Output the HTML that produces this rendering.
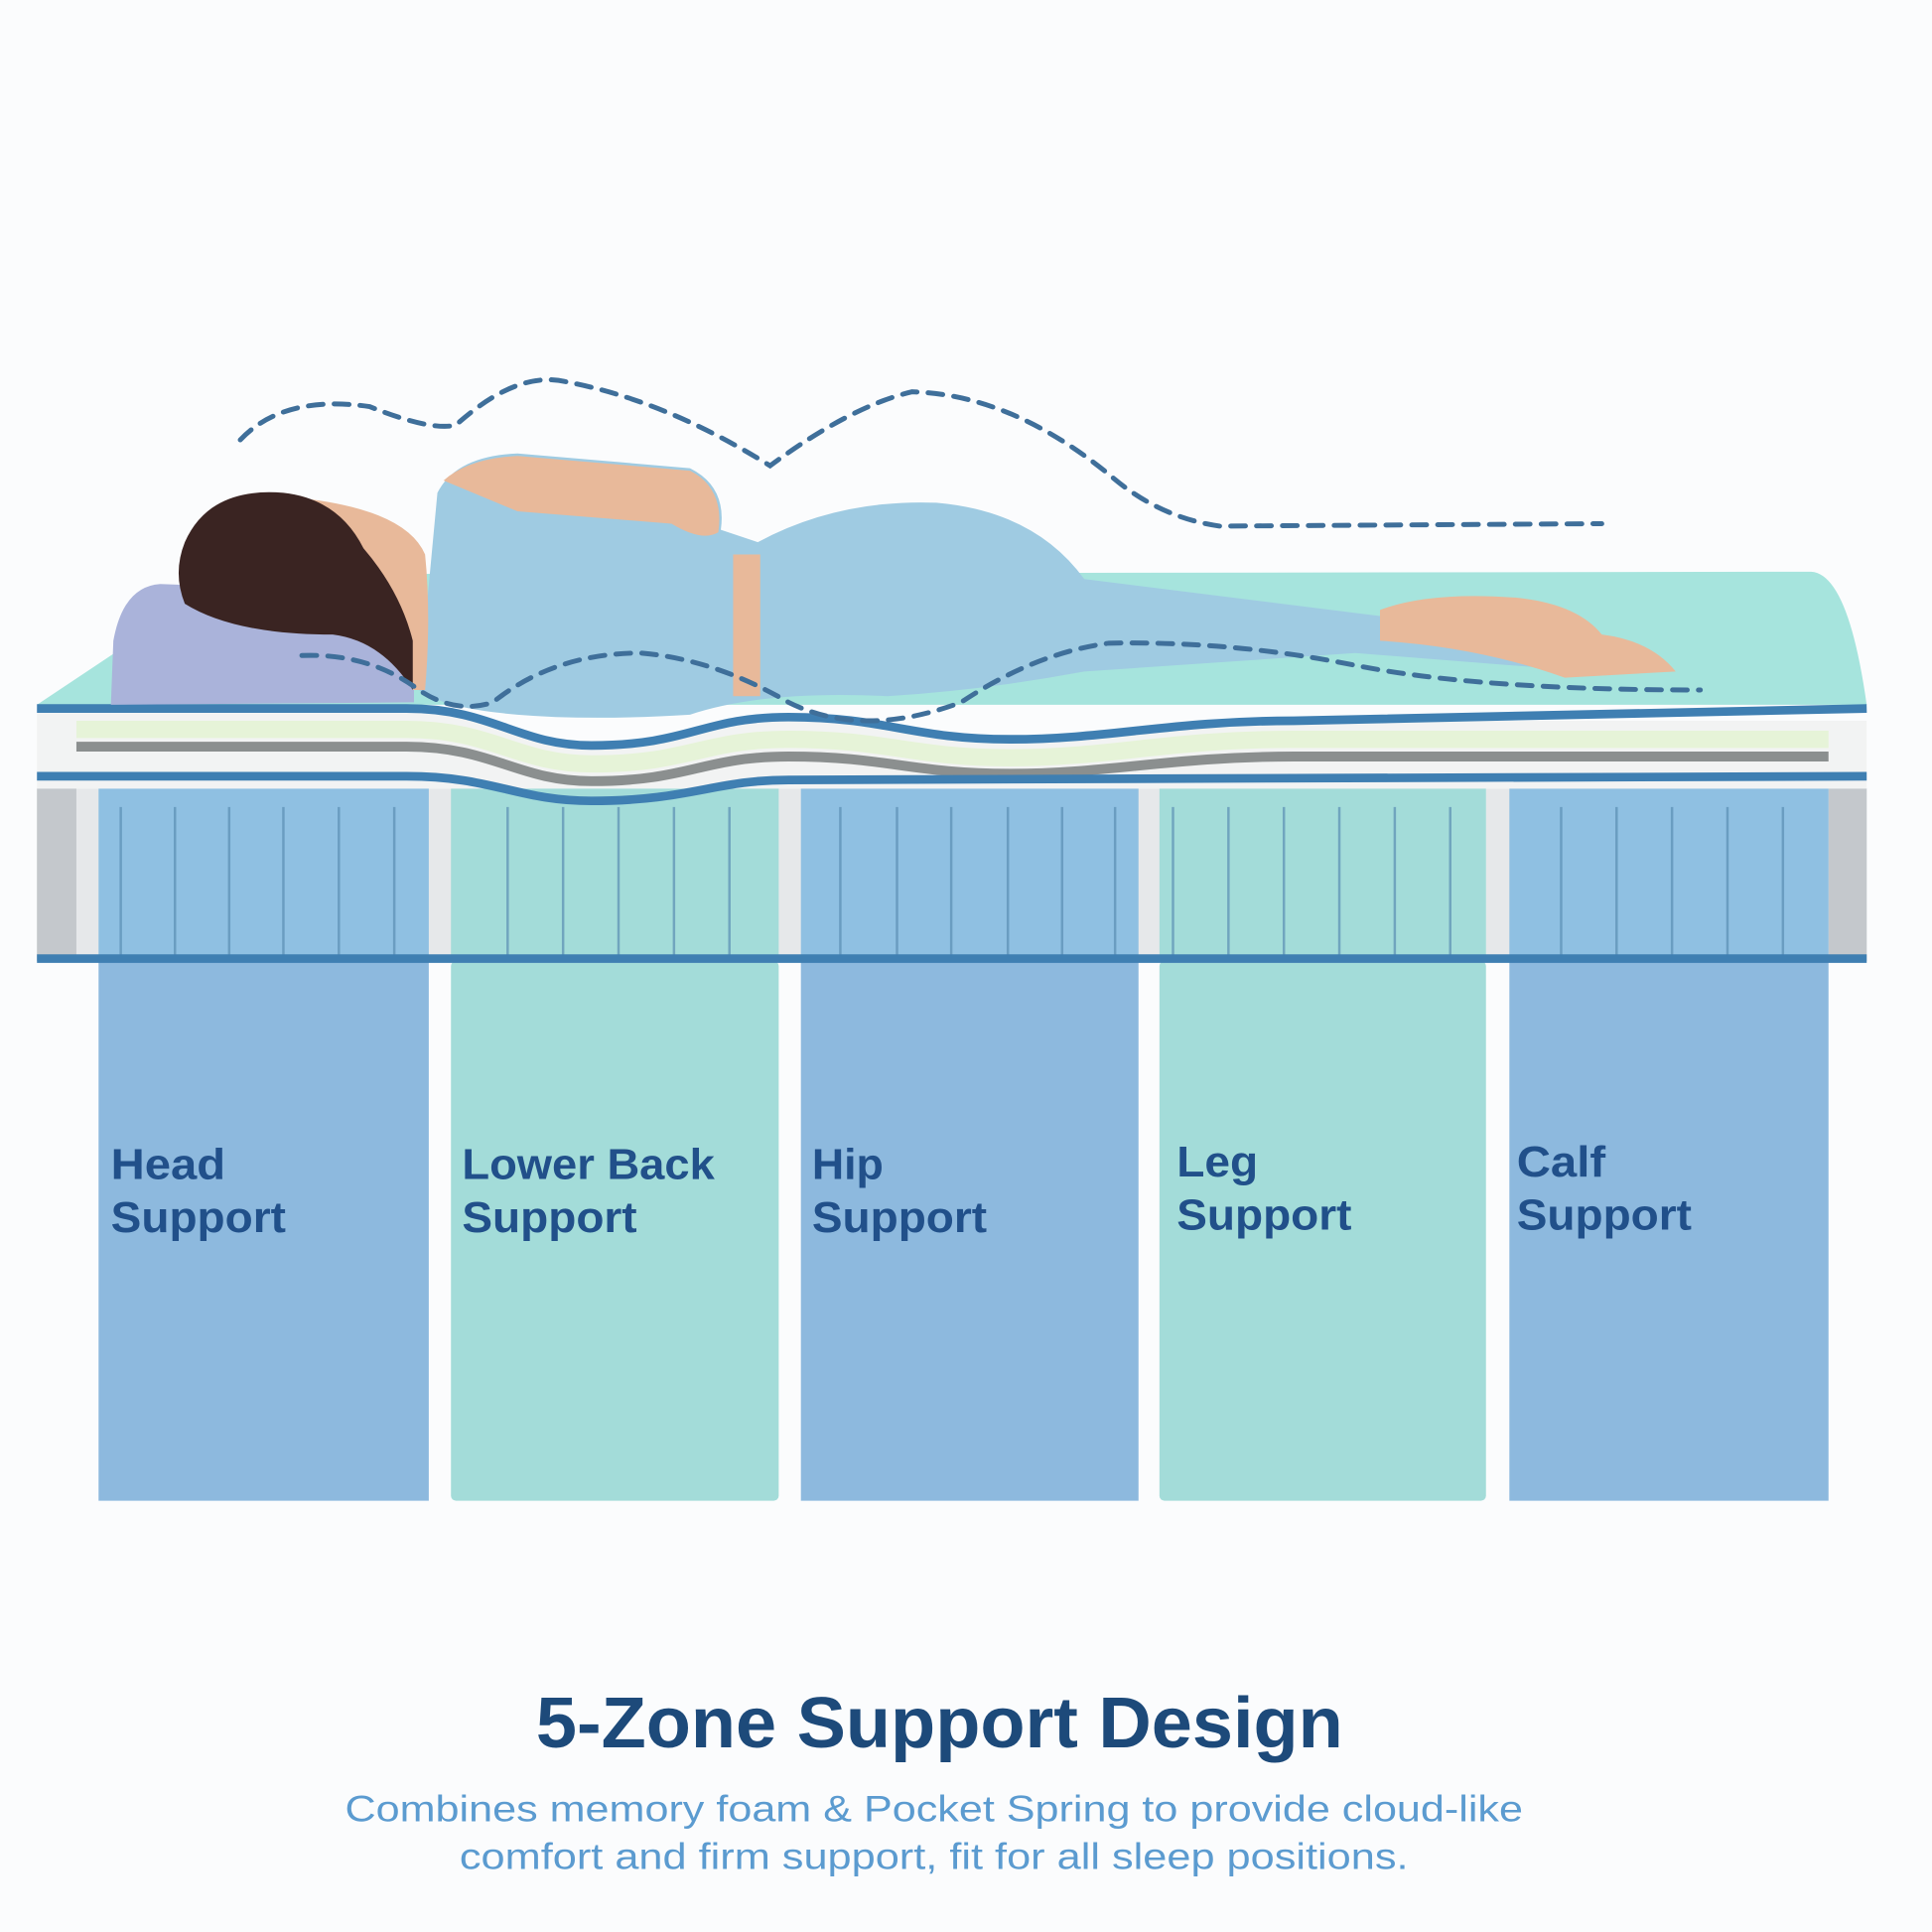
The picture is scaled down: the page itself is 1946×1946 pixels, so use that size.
<!DOCTYPE html>
<html><head><meta charset="utf-8"><style>
html,body{margin:0;padding:0;background:#fbfcfd;}
svg{display:block;}
</style></head><body>
<svg width="1946" height="1946" viewBox="0 0 1568 1568" xmlns="http://www.w3.org/2000/svg">
<rect width="1568" height="1568" fill="#fbfcfd"/>
<!-- zone columns -->
<rect x="80" y="780" width="268" height="438" fill="#8db9de"/>
<rect x="366" y="780" width="266" height="438" rx="4" fill="#a3dcd9"/>
<rect x="650" y="780" width="274" height="438" fill="#8db9de"/>
<rect x="941" y="780" width="265" height="438" rx="4" fill="#a3dcd9"/>
<rect x="1225" y="780" width="259" height="438" fill="#8db9de"/>

<!-- mattress top surface -->
<path d="M30 572 L150 492 Q160 470 200 466 L1470 464 Q1500 466 1515 572 Z" fill="#a6e4dd"/>
<!-- spring section -->
<rect x="30" y="640" width="1485" height="140" fill="#e6e8ea"/>
<rect x="30" y="640" width="32" height="140" fill="#c4c8cc"/>
<rect x="1484" y="640" width="31" height="140" fill="#c4c8cc"/>
<rect x="80" y="640" width="268" height="140" fill="#8fc0e2"/>
<rect x="366" y="640" width="266" height="140" fill="#a3dcd9"/>
<rect x="650" y="640" width="274" height="140" fill="#8fc0e2"/>
<rect x="941" y="640" width="265" height="140" fill="#a3dcd9"/>
<rect x="1225" y="640" width="259" height="140" fill="#8fc0e2"/>
<g stroke="#5b8fb4" stroke-width="2" opacity="0.7">
<path d="M98 655V775M142 655V775M186 655V775M230 655V775M275 655V775M320 655V775"/>
<path d="M412 655V775M457 655V775M502 655V775M547 655V775M592 655V775"/>
<path d="M682 655V775M728 655V775M772 655V775M818 655V775M862 655V775M905 655V775"/>
<path d="M952 655V775M997 655V775M1042 655V775M1087 655V775M1132 655V775M1177 655V775"/>
<path d="M1267 655V775M1312 655V775M1357 655V775M1402 655V775M1447 655V775"/>
</g>
<!-- comfort layer -->
<path d="M30 575 L330 575 C400 575 420 605 480 605 C560 605 570 582 640 582 C720 582 740 600 820 600 C900 600 950 585 1050 585 L1515 585 L1515 640 L30 640 Z" fill="#f2f3f3"/>
<path d="M62 592 L330 592 C400 592 420 620 480 620 C560 620 570 600 640 600 C720 600 740 615 820 615 C900 615 950 600 1050 600 L1484 600" stroke="#e6f3d8" stroke-width="14" fill="none"/>
<path d="M62 606 L330 606 C400 606 420 634 480 634 C560 634 570 614 640 614 C720 614 740 628 820 628 C900 628 950 614 1050 614 L1484 614" stroke="#8b8f8f" stroke-width="8" fill="none"/>
<path d="M30 630 L330 630 C400 630 420 650 480 650 C560 650 580 633 640 633 L1515 630" stroke="#3f7fb2" stroke-width="7" fill="none"/>
<path d="M30 575 L330 575 C400 575 420 605 480 605 C560 605 570 582 640 582 C720 582 740 600 820 600 C900 600 950 585 1050 585 L1515 575" stroke="#3f7fb2" stroke-width="7" fill="none"/>
<path d="M30 778 L1515 778" stroke="#3f7fb2" stroke-width="7"/>

<!-- pillow -->
<path d="M92 520 Q100 476 130 474 L300 480 Q334 486 336 520 L336 570 L90 572 Z" fill="#aab3da"/>
<!-- person body -->
<path d="M355 400 Q370 370 420 368 L560 380 Q590 395 585 430 L615 440 Q680 405 760 408 Q840 415 880 470 L1120 500 L1260 510 L1290 545 L1100 530 L880 545 Q800 560 720 565 Q620 560 560 580 Q480 585 420 580 Q360 575 340 560 Z" fill="#9fcbe2"/>
<path d="M360 390 Q380 372 420 370 L560 382 Q588 396 583 432 Q570 440 545 425 L420 415 Z" fill="#e8b99a"/>
<rect x="595" y="450" width="22" height="115" fill="#e8b99a"/>
<path d="M1120 495 Q1160 480 1230 485 Q1280 490 1300 515 Q1340 520 1360 545 L1270 550 Q1200 525 1120 520 Z" fill="#e8b99a"/>
<path d="M250 405 Q330 415 345 450 Q350 500 345 560 L335 560 Q330 500 300 470 Z" fill="#e8b99a"/>
<path d="M150 440 Q170 395 230 400 Q275 405 295 445 Q325 480 335 520 L335 560 Q310 520 270 515 Q190 515 150 490 Q140 465 150 440 Z" fill="#3a2422"/>

<!-- dashed curves -->
<g stroke="#3f6f9a" stroke-width="4" fill="none" stroke-dasharray="12 9" stroke-linecap="round">
<path d="M195 357 Q230 320 300 330 Q350 350 370 345 Q420 300 460 310 Q540 325 625 378 Q690 330 740 318 Q820 320 900 385 Q940 420 990 427 L1300 425"/>
<path d="M245 532 Q300 530 340 560 Q370 580 400 570 Q450 530 520 530 Q580 535 640 570 Q700 600 780 570 Q840 530 900 522 Q1000 520 1100 540 Q1200 560 1380 560"/>
</g>

<!-- labels -->
<g font-family="Liberation Sans, sans-serif" font-weight="bold" font-size="35" fill="#21508a" lengthAdjust="spacingAndGlyphs">
<text x="90" y="957" textLength="93" lengthAdjust="spacingAndGlyphs">Head</text><text x="90" y="1000" textLength="142" lengthAdjust="spacingAndGlyphs">Support</text>
<text x="375" y="957" textLength="205" lengthAdjust="spacingAndGlyphs">Lower Back</text><text x="375" y="1000" textLength="142" lengthAdjust="spacingAndGlyphs">Support</text>
<text x="659" y="957" textLength="58" lengthAdjust="spacingAndGlyphs">Hip</text><text x="659" y="1000" textLength="142" lengthAdjust="spacingAndGlyphs">Support</text>
<text x="955" y="955" textLength="66" lengthAdjust="spacingAndGlyphs">Leg</text><text x="955" y="998" textLength="142" lengthAdjust="spacingAndGlyphs">Support</text>
<text x="1231" y="955" textLength="72" lengthAdjust="spacingAndGlyphs">Calf</text><text x="1231" y="998" textLength="142" lengthAdjust="spacingAndGlyphs">Support</text>
</g>
<text x="435" y="1418" textLength="655" lengthAdjust="spacingAndGlyphs" font-family="Liberation Sans, sans-serif" font-weight="bold" font-size="58" fill="#1d4a7a">5-Zone Support Design</text>
<g font-family="Liberation Sans, sans-serif" font-size="30" fill="#5b9bd0">
<text x="280" y="1478" textLength="956" lengthAdjust="spacingAndGlyphs">Combines memory foam &amp; Pocket Spring to provide cloud-like</text>
<text x="373" y="1517" textLength="770" lengthAdjust="spacingAndGlyphs">comfort and firm support, fit for all sleep positions.</text>
</g>
</svg>
</body></html>
